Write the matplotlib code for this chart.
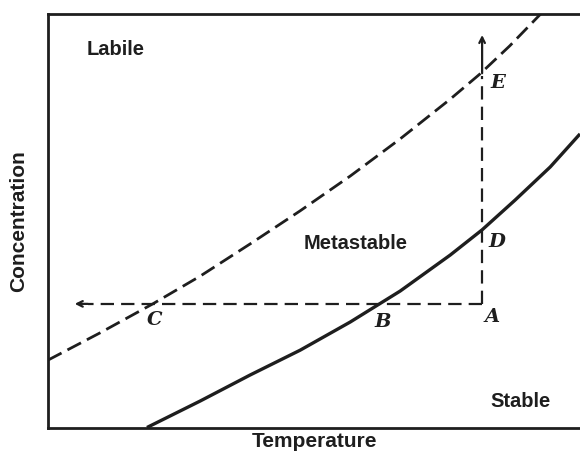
"""Solubility / supersolubility diagram: labile, metastable and stable zones."""
import matplotlib
matplotlib.use("Agg")
import matplotlib.pyplot as plt

# solubility curve (solid)
sol_t = [1.86, 2.86, 3.80, 4.74, 5.68, 6.62, 7.56, 8.16, 8.78, 9.44, 10.0]
sol_c = [0.0, 0.64, 1.27, 1.87, 2.55, 3.30, 4.17, 4.78, 5.50, 6.30, 7.10]

# supersolubility curve (dashed)
sup_t = [0.0, 0.98, 1.97, 2.86, 3.80, 4.74, 5.68, 6.62, 7.56, 8.12, 8.68, 9.26]
sup_c = [1.63, 2.29, 2.99, 3.66, 4.44, 5.24, 6.08, 6.98, 7.94, 8.55, 9.23, 10.0]

# point A and the two paths leaving it
point_a = (8.16, 2.99)
cool_end = 0.45     # temperature at the arrow tip of A -> B -> C
evap_end = 9.56     # concentration at the arrow tip of A -> D -> E

zones = [("Labile", 1.28, 9.13), ("Metastable", 5.79, 4.46), ("Stable", 8.89, 0.62)]
points = [("A", 8.35, 2.67), ("B", 6.30, 2.55), ("C", 2.01, 2.60),
          ("D", 8.44, 4.49), ("E", 8.46, 8.33)]

ink = "#1e1e1e"
fig = plt.figure(figsize=(5.8, 4.55), dpi=100)
ax = fig.add_axes([48 / 580, 27.5 / 455, 532 / 580, 413.5 / 455])

ax.plot(sol_t, sol_c, color=ink, lw=2.4, solid_capstyle="butt")
ax.plot(sup_t, sup_c, color=ink, lw=2.0, dashes=(5.5, 2.4))

ax.plot([point_a[0], cool_end + 0.3], [point_a[1], point_a[1]],
        color=ink, lw=1.6, dashes=(6, 3.2))
ax.plot([point_a[0], point_a[0]], [point_a[1], 8.5],
        color=ink, lw=1.6, dashes=(6, 3.2))
ax.annotate("", xy=(cool_end, point_a[1]), xytext=(cool_end + 0.35, point_a[1]),
            arrowprops=dict(arrowstyle="->", color=ink, lw=1.6))
ax.annotate("", xy=(point_a[0], evap_end), xytext=(point_a[0], 8.5),
            arrowprops=dict(arrowstyle="->", color=ink, lw=1.6))

sans = ["Liberation Sans", "DejaVu Sans"]
for txt, x, y in zones:
    ax.text(x, y, txt, ha="center", va="center", fontsize=14.5, family=sans,
            fontweight="bold", color=ink)
for txt, x, y in points:
    ax.text(x, y, txt, ha="center", va="center", fontsize=14, family="DejaVu Serif",
            fontweight="bold", style="italic", color=ink)

ax.set_xlim(0, 10)
ax.set_ylim(0, 10)
ax.set_xticks([])
ax.set_yticks([])
ax.spines["right"].set_visible(False)
for s in ["left", "top", "bottom"]:
    ax.spines[s].set_linewidth(2.0)
    ax.spines[s].set_color(ink)

ax.set_xlabel("Temperature", fontsize=15, family=sans, fontweight="bold",
              color=ink, labelpad=3)
ax.set_ylabel("Concentration", fontsize=15, family=sans, fontweight="bold",
              color=ink, labelpad=14)

fig.savefig("out.png", dpi=100)
